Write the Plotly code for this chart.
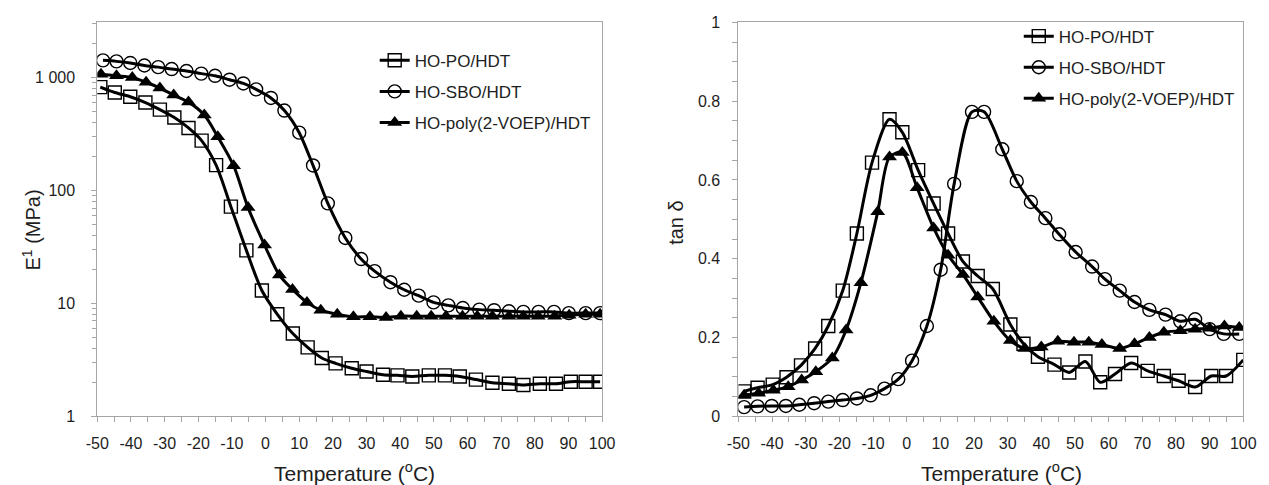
import plotly.graph_objects as go

# ---------------- Storage modulus (left) ----------------
t_po_E = [-49.1, -44.8, -40.2, -35.7, -31.4, -27.1, -22.9, -19.0, -14.7, -10.3, -5.7, -1.1,
          3.5, 8.1, 12.5, 16.7, 20.8, 25.6, 30.0, 34.9, 39.2, 43.6, 48.5, 53.3, 57.7,
          62.5, 67.4, 72.3, 76.6, 81.5, 86.3, 90.7, 95.1, 99.4]
e_po = [826, 740, 679, 603, 522, 444, 359, 277, 168, 72, 29.5, 13.0,
        8.0, 5.4, 4.07, 3.28, 2.94, 2.66, 2.49, 2.33, 2.30, 2.25, 2.30, 2.30, 2.25,
        2.11, 1.98, 1.94, 1.89, 1.94, 1.94, 2.02, 2.02, 2.02]

t_sbo_E = [-48.3, -44.3, -40.2, -36.0, -31.9, -27.9, -23.5, -19.1, -15.0, -10.7, -6.6, -2.8,
           1.6, 5.6, 10.0, 14.1, 18.5, 23.7, 28.4, 32.4, 37.1, 41.2, 45.5, 49.9, 54.3,
           58.6, 63.5, 67.9, 72.3, 76.6, 81.1, 85.7, 90.1, 95.1, 99.4]
e_sbo = [1426, 1397, 1352, 1284, 1242, 1194, 1148, 1088, 1040, 961, 890, 789,
         662, 512, 326, 167, 77, 38, 24.7, 19.3, 15.4, 13.2, 11.7, 10.2, 9.6,
         9.1, 8.8, 8.7, 8.5, 8.4, 8.4, 8.4, 8.2, 8.2, 8.2]

t_voep_E = [-48.9, -44.3, -39.6, -35.5, -31.4, -27.3, -22.9, -18.2, -14.2, -9.5, -5.2, -0.3,
            4.1, 8.0, 12.3, 16.4, 21.3, 26.1, 31.0, 35.8, 40.2, 44.9, 49.2, 53.6, 58.5,
            62.9, 67.4, 72.3, 76.6, 81.0, 85.9, 90.2, 95.1, 99.4]
e_voep = [1076, 1040, 1006, 912, 810, 702, 608, 467, 300, 166, 70.6, 32.9,
          17.8, 13.3, 10.2, 8.7, 8.0, 7.6, 7.6, 7.5, 7.7, 7.7, 7.7, 7.7, 7.7,
          7.7, 7.7, 7.7, 7.7, 7.7, 7.7, 7.85, 8.0, 8.0]

# ---------------- tan delta (right) ----------------
t_po_tan = [-48.3, -44.3, -39.8, -35.7, -31.4, -27.2, -23.3, -19.0, -14.8, -10.3, -5.1, -1.3,
            3.4, 8.0, 12.3, 16.7, 21.1, 25.6, 30.8, 34.7, 39.0, 43.9, 48.3, 53.1, 57.5,
            61.9, 66.7, 71.6, 76.4, 80.8, 85.7, 90.5, 94.9, 100.0]
tan_po = [0.063, 0.072, 0.080, 0.099, 0.129, 0.172, 0.229, 0.319, 0.464, 0.644, 0.754, 0.721,
          0.625, 0.540, 0.464, 0.393, 0.356, 0.323, 0.233, 0.184, 0.151, 0.131, 0.111, 0.139, 0.086,
          0.107, 0.135, 0.115, 0.102, 0.090, 0.074, 0.102, 0.102, 0.143]

t_sbo_tan = [-48.3, -44.3, -40.1, -35.9, -31.9, -27.5, -23.3, -19.0, -14.8, -10.7, -6.6, -2.5,
             1.6, 6.0, 10.1, 14.1, 19.4, 23.0, 28.4, 32.7, 36.9, 41.2, 45.3, 50.2, 55.1,
             58.9, 63.3, 67.7, 72.1, 76.9, 81.3, 85.7, 90.0, 94.2, 98.8]
tan_sbo = [0.023, 0.025, 0.026, 0.026, 0.029, 0.033, 0.037, 0.041, 0.045, 0.053, 0.070, 0.094,
           0.141, 0.229, 0.372, 0.590, 0.773, 0.773, 0.678, 0.597, 0.544, 0.503, 0.462, 0.417, 0.380,
           0.348, 0.319, 0.290, 0.270, 0.258, 0.241, 0.246, 0.221, 0.209, 0.209]

t_voep_tan = [-48.3, -44.0, -39.6, -35.2, -31.2, -27.0, -22.1, -18.0, -13.6, -8.6, -5.1, -1.3,
              3.1, 8.0, 12.3, 16.7, 21.1, 25.9, 30.8, 35.1, 40.0, 44.9, 49.7, 54.1, 58.0,
              63.3, 67.7, 72.1, 76.4, 81.3, 85.7, 90.0, 94.4, 98.8]
tan_voep = [0.053, 0.058, 0.066, 0.075, 0.092, 0.113, 0.148, 0.219, 0.339, 0.519, 0.658, 0.670,
            0.580, 0.478, 0.409, 0.360, 0.303, 0.241, 0.192, 0.172, 0.176, 0.190, 0.188, 0.188, 0.182,
            0.172, 0.184, 0.200, 0.213, 0.217, 0.221, 0.223, 0.229, 0.225]

series_names = ["HO-PO/HDT", "HO-SBO/HDT", "HO-poly(2-VOEP)/HDT"]
x_ticks = list(range(-50, 101, 10))
x_ticktext = [str(v) for v in x_ticks]  # plain hyphen for negatives
e_tickvals = [1, 10, 100, 1000]
e_ticktext = ["1", "10", "100", "1 000"]
tan_tickvals = [0, 0.2, 0.4, 0.6, 0.8, 1]
tan_ticktext = ["0", "0.2", "0.4", "0.6", "0.8", "1"]

FONT = "Liberation Sans, Arial, sans-serif"
AX = "#a6a6a6"
TXT = "#1e1e1e"

markers = [
    dict(symbol="square-open", size=13, color="black", line=dict(width=1.4, color="black")),
    dict(symbol="circle-open", size=13, color="black", line=dict(width=1.4, color="black")),
    dict(symbol="triangle-up", size=13, color="black", line=dict(width=0, color="black")),
]

fig = go.Figure()

left_data = [(t_po_E, e_po), (t_sbo_E, e_sbo), (t_voep_E, e_voep)]
right_data = [(t_po_tan, tan_po), (t_sbo_tan, tan_sbo), (t_voep_tan, tan_voep)]

for i, (xs, ys) in enumerate(left_data):
    fig.add_trace(go.Scatter(
        x=xs, y=ys, mode="lines+markers", name=series_names[i],
        line=dict(color="black", width=3, shape="spline", smoothing=0.8),
        marker=markers[i], xaxis="x", yaxis="y", legend="legend",
        legendgroup="L%d" % i,
    ))
for i, (xs, ys) in enumerate(right_data):
    fig.add_trace(go.Scatter(
        x=xs, y=ys, mode="lines+markers", name=series_names[i],
        line=dict(color="black", width=3, shape="spline", smoothing=0.8),
        marker=markers[i], xaxis="x2", yaxis="y2", legend="legend2",
        legendgroup="R%d" % i,
    ))

W, H = 1269, 485
def px_x(p):
    return p / W
def px_y(p):
    return (H - p) / H

xaxis_common = dict(
    range=[-50, 100], tickvals=x_ticks, ticktext=x_ticktext,
    showline=True, linecolor=AX, linewidth=1,
    mirror=True, ticks="outside", ticklen=5, tickcolor=AX, tickwidth=1,
    showgrid=False, zeroline=False, ticklabelstandoff=8,
    minor=dict(dtick=5, ticks="outside", ticklen=5, tickcolor=AX, showgrid=False),
    tickfont=dict(family=FONT, size=16, color=TXT),
)

fig.update_layout(
    width=W, height=H, margin=dict(l=0, r=0, t=0, b=0),
    paper_bgcolor="white", plot_bgcolor="white",
    font=dict(family=FONT, color=TXT),
    xaxis=dict(domain=[px_x(87), px_x(602)], anchor="y", **xaxis_common),
    xaxis2=dict(domain=[px_x(741), px_x(1256)], anchor="y2", **xaxis_common),
    yaxis=dict(
        type="log", range=[0, 3.49], domain=[px_y(423), px_y(15)], anchor="x",
        tickvals=e_tickvals, ticktext=e_ticktext,
        showline=True, linecolor=AX, linewidth=1, mirror=True,
        ticks="outside", ticklen=5, tickcolor=AX, showgrid=False, zeroline=False,
        ticklabelstandoff=13,
        minor=dict(dtick="D1", ticks="outside", ticklen=4, tickcolor=AX, showgrid=False),
        tickfont=dict(family=FONT, size=16, color=TXT),
    ),
    yaxis2=dict(
        range=[0, 1], domain=[px_y(423), px_y(15)], anchor="x2",
        tickvals=tan_tickvals, ticktext=tan_ticktext,
        showline=True, linecolor=AX, linewidth=1, mirror=True,
        ticks="outside", ticklen=5, tickcolor=AX, showgrid=False, zeroline=False,
        ticklabelstandoff=9,
        minor=dict(dtick=0.05, ticks="outside", ticklen=5, tickcolor=AX, showgrid=False),
        tickfont=dict(family=FONT, size=16, color=TXT),
    ),
    legend=dict(
        x=px_x(370), y=px_y(36), xanchor="left", yanchor="top",
        bgcolor="rgba(0,0,0,0)", font=dict(family=FONT, size=17, color=TXT),
        tracegroupgap=6, itemwidth=30,
    ),
    legend2=dict(
        x=px_x(1027), y=px_y(11), xanchor="left", yanchor="top",
        bgcolor="rgba(0,0,0,0)", font=dict(family=FONT, size=17, color=TXT),
        tracegroupgap=6, itemwidth=30,
    ),
    showlegend=True,
    annotations=[
        dict(text="E<sup>1</sup> (MPa)", x=px_x(20), y=px_y(230), xref="paper", yref="paper",
             xanchor="center", yanchor="middle",
             showarrow=False, textangle=-90, font=dict(family=FONT, size=20, color=TXT)),
        dict(text="tan δ", x=px_x(678), y=px_y(222), xref="paper", yref="paper",
             xanchor="center", yanchor="middle",
             showarrow=False, textangle=-90, font=dict(family=FONT, size=20, color=TXT)),
        dict(text="Temperature (<sup>o</sup>C)", x=px_x(349), y=px_y(481), xref="paper", yref="paper",
             xanchor="center", yanchor="middle",
             showarrow=False, font=dict(family=FONT, size=21, color=TXT)),
        dict(text="Temperature (<sup>o</sup>C)", x=px_x(1009), y=px_y(481), xref="paper", yref="paper",
             xanchor="center", yanchor="middle",
             showarrow=False, font=dict(family=FONT, size=21, color=TXT)),
    ],
)

fig.write_html("out.html")
